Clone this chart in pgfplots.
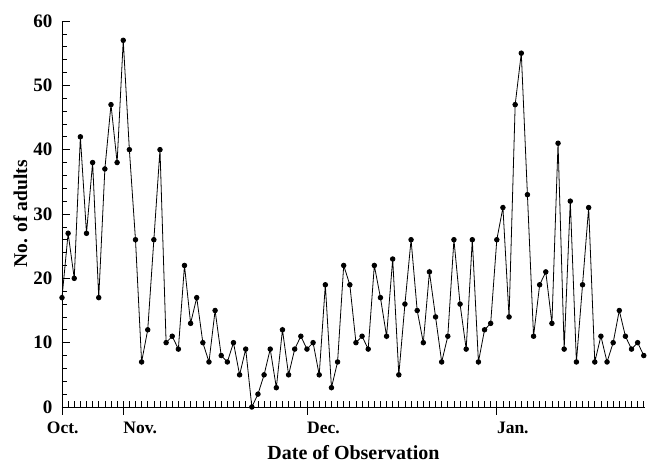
\documentclass[border=0pt]{standalone}
\usepackage{fontspec}
\setmainfont{Liberation Serif}
\usepackage{pgfplots}
\pgfplotsset{compat=1.18}
\begin{document}
\begin{tikzpicture}
\begin{axis}[
 scale only axis, width=583pt, height=386pt,
 xmin=0, xmax=95.2, ymin=0, ymax=60,
 axis lines=left, axis line style={-, line width=0.9pt},
 xtick={0,10,40,71}, xticklabels={\makebox[0pt]{Oct.},Nov.,Dec.,Jan.},
 minor xtick={0,...,95},
 ytick={0,10,...,60}, minor ytick={0,2,...,60},
 tick align=inside,
 major tick length=8pt, minor tick length=5.5pt,
 every major x tick/.append style={yshift=-8pt},
 tick style={black, line width=0.7pt},
 xticklabel style={anchor=north west, inner sep=0pt, yshift=-15pt, font=\fontsize{17.5}{20}\selectfont\bfseries},
 yticklabel style={font=\fontsize{19}{22}\selectfont\bfseries, xshift=-6pt},
 /pgf/number format/assume math mode=true,
 xlabel={Date of Observation}, ylabel={No. of adults},
 xlabel style={at={(axis description cs:0.5,0)}, anchor=north, inner sep=0pt, yshift=-38pt, font=\fontsize{20}{24}\selectfont\bfseries},
 ylabel style={at={(axis description cs:0,0.5)}, anchor=center, yshift=41.5pt, font=\fontsize{19.5}{22}\selectfont\bfseries},
]
\addplot[black, line width=0.8pt, mark=*, mark size=2.3pt] coordinates {
(0,17)(1,27)(2,20)(3,42)(4,27)(5,38)(6,17)(7,37)(8,47)(9,38)
(10,57)(11,40)(12,26)(13,7)(14,12)(15,26)(16,40)(17,10)(18,11)(19,9)
(20,22)(21,13)(22,17)(23,10)(24,7)(25,15)(26,8)(27,7)(28,10)(29,5)
(30,9)(31,0)(32,2)(33,5)(34,9)(35,3)(36,12)(37,5)(38,9)(39,11)
(40,9)(41,10)(42,5)(43,19)(44,3)(45,7)(46,22)(47,19)(48,10)(49,11)
(50,9)(51,22)(52,17)(53,11)(54,23)(55,5)(56,16)(57,26)(58,15)(59,10)
(60,21)(61,14)(62,7)(63,11)(64,26)(65,16)(66,9)(67,26)(68,7)(69,12)
(70,13)(71,26)(72,31)(73,14)(74,47)(75,55)(76,33)(77,11)(78,19)(79,21)
(80,13)(81,41)(82,9)(83,32)(84,7)(85,19)(86,31)(87,7)(88,11)(89,7)
(90,10)(91,15)(92,11)(93,9)(94,10)(95,8)
};
\end{axis}
\pgfresetboundingbox
\path ([xshift=-62pt,yshift=-58pt]current axis.south west) rectangle ([xshift=4pt,yshift=21pt]current axis.north east);
\end{tikzpicture}
\end{document}
